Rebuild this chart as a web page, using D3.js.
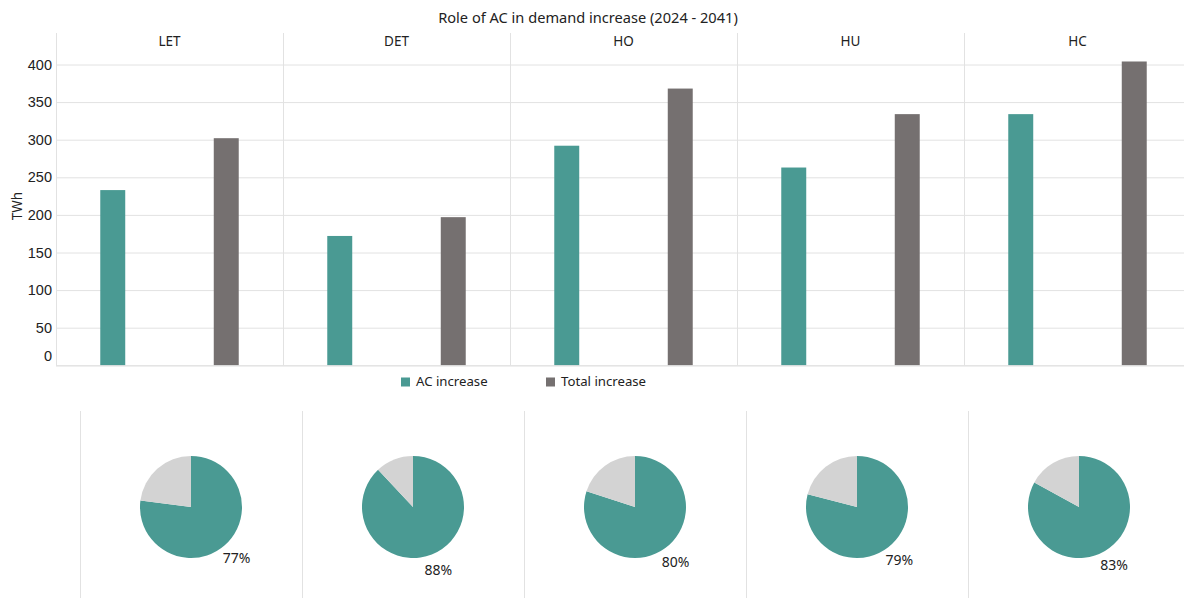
<!DOCTYPE html>
<html>
<head>
<meta charset="utf-8">
<script src="https://cdn.jsdelivr.net/npm/d3@7/dist/d3.min.js"></script>
<style>
  html, body { margin: 0; padding: 0; background: #fff; }
  svg { display: block; font-family: "Noto Sans", "Open Sans", sans-serif; }
  text { fill: #222; }
</style>
</head>
<body>
<svg id="chart" width="1184" height="598"></svg>
<script>
// Demand increase by scenario, 2024 - 2041 (TWh)
const categories = ["LET", "DET", "HO", "HU", "HC"];
const seriesNames = ["AC increase", "Total increase"];
const acIncrease = [233, 172, 292, 263, 334];
const totalIncrease = [302, 197, 368, 334, 404];
// Share of the total increase that comes from AC (%)
const acShare = [77, 88, 80, 79, 83];
const yTicks = [0, 50, 100, 150, 200, 250, 300, 350, 400];

const colors = { "AC increase": "#4a9a93", "Total increase": "#757070" };
const restColor = "#d3d3d3";
const gridColor = "#e2e2e2";

const svg = d3.select("#chart");
const W = 1184;

// ---- Bar chart section ----
const plotLeft = 56, plotTop = 33, panelW = 227;
const x0 = d3.scaleBand().domain(categories).range([plotLeft, plotLeft + panelW * categories.length]);
const x1 = d3.scaleBand().domain(seriesNames).range([0, x0.bandwidth()])
  .paddingInner(0.78).paddingOuter(0.39);
const y = d3.scaleLinear().domain([0, 400]).range([365.3, 64.5]);

svg.append("text")
  .attr("x", 588).attr("y", 19)
  .attr("text-anchor", "middle").attr("dominant-baseline", "middle")
  .style("font-size", "14.6px")
  .text("Role of AC in demand increase (2024 - 2041)");

// horizontal gridlines
const grid = svg.append("g")
  .attr("transform", `translate(${plotLeft},0)`)
  .call(d3.axisLeft(y).tickValues(yTicks).tickSize(-(W - plotLeft)).tickFormat(""));
grid.select(".domain").remove();
grid.selectAll(".tick line").attr("stroke", gridColor);

// panel separators
svg.append("g").selectAll("line")
  .data(categories)
  .join("line")
  .attr("x1", d => x0(d) + 0.5).attr("x2", d => x0(d) + 0.5)
  .attr("y1", plotTop).attr("y2", y(0))
  .attr("stroke", gridColor);

// y axis labels
const yAxis = svg.append("g")
  .attr("transform", `translate(${plotLeft - 4},0)`)
  .call(d3.axisLeft(y).tickValues(yTicks).tickSize(0).tickPadding(0));
yAxis.select(".domain").remove();
yAxis.selectAll("text")
  .style("font-size", "14.5px").attr("fill", "#222")
  .attr("dy", d => d === 0 ? "-0.32em" : "0.32em");

svg.append("text")
  .attr("transform", `translate(18,206) rotate(-90)`)
  .attr("text-anchor", "middle").attr("dominant-baseline", "middle")
  .style("font-size", "13.5px")
  .text("TWh");

// panel titles
svg.append("g").selectAll("text")
  .data(categories)
  .join("text")
  .attr("x", d => x0(d) + x0.bandwidth() / 2)
  .attr("y", 42)
  .attr("text-anchor", "middle").attr("dominant-baseline", "middle")
  .style("font-size", "13.5px")
  .text(d => d);

// bars
const rows = categories.map((c, i) => ({
  cat: c,
  values: [
    { key: "AC increase", value: acIncrease[i] },
    { key: "Total increase", value: totalIncrease[i] }
  ]
}));

svg.append("g").selectAll("g")
  .data(rows)
  .join("g")
  .attr("transform", d => `translate(${x0(d.cat)},0)`)
  .selectAll("rect")
  .data(d => d.values)
  .join("rect")
  .attr("x", d => x1(d.key))
  .attr("width", x1.bandwidth())
  .attr("y", d => y(d.value))
  .attr("height", d => y(0) - y(d.value))
  .attr("fill", d => colors[d.key]);

// baseline
svg.append("line")
  .attr("x1", plotLeft).attr("x2", W)
  .attr("y1", y(0) + 0.5).attr("y2", y(0) + 0.5)
  .attr("stroke", gridColor);

// legend
const legendX = d3.scalePoint().domain(seriesNames).range([401, 546]);
const legend = svg.append("g").selectAll("g")
  .data(seriesNames)
  .join("g")
  .attr("transform", d => `translate(${legendX(d)},382)`);
legend.append("rect")
  .attr("x", 0).attr("y", -4.5).attr("width", 9).attr("height", 9)
  .attr("fill", d => colors[d]);
legend.append("text")
  .attr("x", 15).attr("y", 0)
  .attr("dominant-baseline", "middle")
  .style("font-size", "13.2px")
  .text(d => d);

// ---- Pie section ----
const px = d3.scaleBand().domain(categories).range([80, 80 + 222 * categories.length]);
const pieCY = 507, pieR = 51, labelR = 69;

svg.append("g").selectAll("line")
  .data(categories)
  .join("line")
  .attr("x1", d => px(d) + 0.5).attr("x2", d => px(d) + 0.5)
  .attr("y1", 411).attr("y2", 598)
  .attr("stroke", gridColor);

const pie = d3.pie().sort(null).value(d => d.value);
const arc = d3.arc().innerRadius(0).outerRadius(pieR);

categories.forEach((c, i) => {
  const g = svg.append("g")
    .attr("transform", `translate(${px(c) + px.bandwidth() / 2},${pieCY})`);
  const slices = pie([
    { key: "ac", value: acShare[i] },
    { key: "rest", value: 100 - acShare[i] }
  ]);
  g.selectAll("path")
    .data(slices)
    .join("path")
    .attr("d", arc)
    .attr("fill", d => d.data.key === "ac" ? colors["AC increase"] : restColor);
  const s = slices[0];
  const mid = (s.startAngle + s.endAngle) / 2;
  g.append("text")
    .attr("x", Math.sin(mid) * labelR)
    .attr("y", -Math.cos(mid) * labelR)
    .attr("text-anchor", "middle").attr("dominant-baseline", "middle")
    .style("font-size", "14px")
    .text(acShare[i] + "%");
});
</script>
</body>
</html>
